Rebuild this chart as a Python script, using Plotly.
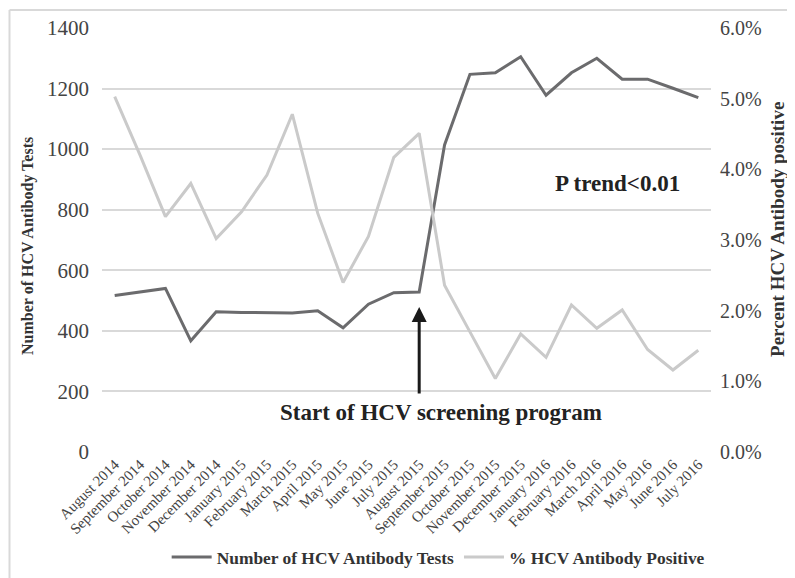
import plotly.graph_objects as go

months = ["August 2014", "September 2014", "October 2014", "November 2014", "December 2014",
          "January 2015", "February 2015", "March 2015", "April 2015", "May 2015", "June 2015",
          "July 2015", "August 2015", "September 2015", "October 2015", "November 2015",
          "December 2015", "January 2016", "February 2016", "March 2016", "April 2016",
          "May 2016", "June 2016", "July 2016"]
tests = [517, 529, 540, 367, 463, 461, 459, 459, 466, 410, 488, 526, 528, 1014, 1247, 1252,
         1305, 1178, 1252, 1300, 1231, 1231, 1201, 1170]
pct_positive = [5.03, 4.2, 3.33, 3.80, 3.02, 3.40, 3.92, 4.78, 3.38, 2.40, 3.05, 4.17, 4.51,
                2.36, 1.70, 1.04, 1.67, 1.34, 2.08, 1.75, 2.01, 1.45, 1.16, 1.44]
left_ticks = [0, 200, 400, 600, 800, 1000, 1200, 1400]
right_ticks = [0, 1, 2, 3, 4, 5, 6]
right_labels = ["0.0%", "1.0%", "2.0%", "3.0%", "4.0%", "5.0%", "6.0%"]

FONT = "Liberation Serif"

fig = go.Figure()
fig.add_trace(go.Scatter(x=months, y=tests, mode="lines", name="Number of HCV Antibody Tests",
                         line=dict(color="#6b6b6d", width=3)))
fig.add_trace(go.Scatter(x=months, y=pct_positive, mode="lines", name="% HCV Antibody Positive",
                         line=dict(color="#cacaca", width=3), yaxis="y2"))

# the page body adds an 8px offset, so the figure is 8px smaller and margins shifted
fig.update_layout(
    width=787, height=570,
    margin=dict(l=94, r=84, t=20, b=126, autoexpand=False),
    paper_bgcolor="white", plot_bgcolor="white",
    font=dict(family=FONT, color="#333333"),
    showlegend=True,
    legend=dict(orientation="h", x=0.552, xanchor="center", y=-0.248, yanchor="middle",
                font=dict(family=FONT, size=17.4, color="#333333", weight="bold"),
                itemwidth=40, tracegroupgap=0),
    xaxis=dict(type="category", range=[-0.5, 23.5], tickangle=-45,
               tickfont=dict(size=15, color="#444444"),
               showgrid=False, showline=False, ticks="", zeroline=False, automargin=False),
    yaxis=dict(range=[0, 1400], tickvals=left_ticks, tickfont=dict(size=21, color="#444444"),
               showgrid=True, gridcolor="#d9d9d9", gridwidth=1.5, zeroline=False,
               showline=False, ticks="", ticklabelstandoff=12, automargin=False),
    yaxis2=dict(range=[0, 6], tickvals=right_ticks, ticktext=right_labels, overlaying="y",
                side="right", showgrid=False, zeroline=False, showline=False, ticks="",
                tickfont=dict(size=20, color="#444444"), ticklabelstandoff=8, automargin=False),
)

fig.add_annotation(x=-0.1215, y=0.486, xref="paper", yref="paper", textangle=-90,
                   xanchor="center", yanchor="middle",
                   text="<b>Number of HCV Antibody Tests</b>", showarrow=False,
                   font=dict(size=16, color="#333333", family=FONT))
fig.add_annotation(x=1.11, y=0.526, xref="paper", yref="paper", textangle=-90,
                   xanchor="center", yanchor="middle",
                   text="<b>Percent HCV Antibody positive</b>", showarrow=False,
                   font=dict(size=19, color="#333333", family=FONT))

fig.add_annotation(x="August 2015", y=479, ax="August 2015", ay=188, xref="x", yref="y",
                   axref="x", ayref="y", text="", showarrow=True, arrowhead=2,
                   arrowsize=1, arrowwidth=3, arrowcolor="#1a1a1a")
fig.add_annotation(x=0.5567, y=129, xref="paper", yref="y", xanchor="center",
                   text="<b>Start of HCV screening program</b>", showarrow=False,
                   font=dict(size=23, color="#222222", family=FONT))
fig.add_annotation(x=0.847, y=888, xref="paper", yref="y", xanchor="center",
                   text="<b>P trend&lt;0.01</b>",
                   showarrow=False, font=dict(size=23, color="#222222", family=FONT))

# chart-area border (top and left edges visible)
fig.add_shape(type="line", xref="paper", yref="paper", x0=-0.1519, x1=1.2, y0=1.0425, y1=1.0425,
              line=dict(color="#d9d9d9", width=2))
fig.add_shape(type="line", xref="paper", yref="paper", x0=-0.1519, x1=-0.1519, y0=1.0425, y1=-0.4,
              line=dict(color="#d9d9d9", width=2))

fig.write_html("out.html")
